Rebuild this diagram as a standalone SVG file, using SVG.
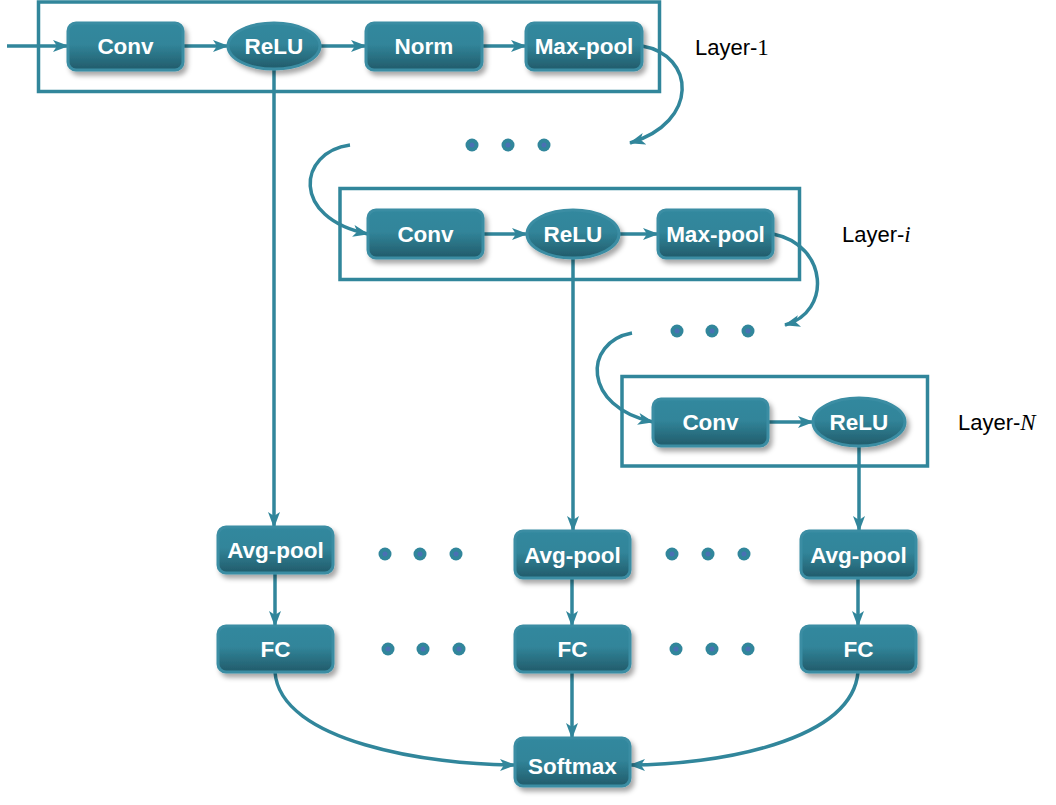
<svg xmlns="http://www.w3.org/2000/svg" width="1056" height="805" viewBox="0 0 1056 805">
<defs>
<linearGradient id="g" x1="0" y1="0" x2="0" y2="1">
<stop offset="0" stop-color="#33889E"/>
<stop offset="0.45" stop-color="#31859A"/>
<stop offset="1" stop-color="#225B6A"/>
</linearGradient>
<filter id="sh" x="-20%" y="-30%" width="150%" height="170%">
<feDropShadow dx="3" dy="4" stdDeviation="2.5" flood-color="#000" flood-opacity="0.35"/>
</filter>
<marker id="ar" markerUnits="userSpaceOnUse" markerWidth="16" markerHeight="14" refX="15" refY="7" orient="auto">
<path d="M0,1 L16,7 L0,13 L4,7 Z" fill="#31869B"/>
</marker>
</defs>
<style>
.box{fill:none;stroke:#31869B;stroke-width:3.5}
.n rect,.n ellipse{fill:url(#g);stroke:#3A8DA3;stroke-width:3;filter:url(#sh)}
.n text{fill:#fff;font-family:"Liberation Sans",Arial,sans-serif;font-weight:bold;font-size:22.5px;text-anchor:middle;dominant-baseline:central}
.c path,.c line{fill:none;stroke:#31869B;stroke-width:3.5;marker-end:url(#ar)}
.d circle.o{fill:#31869B}
.d circle.i{fill:#4A70B4}
.lbl{font-family:"Liberation Sans",Arial,sans-serif;font-size:22px;fill:#000}
.m{font-family:"Liberation Serif","Times New Roman",serif;font-size:23px}
</style>

<g id="layer1-frame"><rect class="box" x="38.5" y="2" width="621" height="89.5"/></g>
<g id="layeri-frame"><rect class="box" x="340" y="188.5" width="459.5" height="91"/></g>
<g id="layerN-frame"><rect class="box" x="622" y="376.5" width="305.5" height="89.5"/></g>

<g id="connectors" class="c">
<line x1="7" y1="46" x2="68" y2="46"/>
<line x1="183" y1="46" x2="228" y2="46"/>
<line x1="320" y1="46" x2="366" y2="46"/>
<line x1="482" y1="46" x2="526" y2="46"/>
<path d="M642,46 C695,55 700,122 630,143"/>
<path d="M350,145 C298,152 290,218 368,234"/>
<line x1="483" y1="234" x2="527" y2="234"/>
<line x1="619" y1="234" x2="658" y2="234"/>
<path d="M773,234 C828,245 832,312 785,325"/>
<path d="M632,333 C583,342 582,407 653,422"/>
<line x1="768" y1="422" x2="813" y2="422"/>
<line x1="274" y1="69" x2="274" y2="527"/>
<line x1="573" y1="258" x2="573" y2="531"/>
<line x1="859" y1="446" x2="859" y2="531"/>
<line x1="275" y1="573" x2="275" y2="626"/>
<line x1="572" y1="578" x2="572" y2="626"/>
<line x1="858" y1="578" x2="858" y2="626"/>
<line x1="572" y1="672" x2="572" y2="738"/>
<path d="M275,672 C280,742 430,765 515,765"/>
<path d="M858,672 C852,742 715,765 630,765"/>
</g>

<g id="conv1" class="n"><rect x="68" y="23" width="115" height="47" rx="8"/><text x="125.5" y="46.5">Conv</text></g>
<g id="relu1" class="n"><ellipse cx="274" cy="46" rx="46" ry="23"/><text x="274" y="46.5">ReLU</text></g>
<g id="norm1" class="n"><rect x="366" y="23" width="116" height="47" rx="8"/><text x="424" y="46.5">Norm</text></g>
<g id="maxpool1" class="n"><rect x="526" y="23" width="116" height="47" rx="8"/><text x="584" y="46.5">Max-pool</text></g>

<g id="conv2" class="n"><rect x="368" y="210" width="115" height="48" rx="8"/><text x="425.5" y="234.5">Conv</text></g>
<g id="relu2" class="n"><ellipse cx="573" cy="234" rx="46" ry="24"/><text x="573" y="234.5">ReLU</text></g>
<g id="maxpool2" class="n"><rect x="658" y="210" width="115" height="48" rx="8"/><text x="715.5" y="234.5">Max-pool</text></g>

<g id="conv3" class="n"><rect x="653" y="399" width="115" height="47" rx="8"/><text x="710.5" y="422.5">Conv</text></g>
<g id="relu3" class="n"><ellipse cx="859" cy="422" rx="46" ry="24"/><text x="859" y="422.5">ReLU</text></g>

<g id="avgpool1" class="n"><rect x="218" y="527" width="115" height="46" rx="8"/><text x="275.5" y="550.5">Avg-pool</text></g>
<g id="avgpool2" class="n"><rect x="515" y="531" width="115" height="47" rx="8"/><text x="572.5" y="555">Avg-pool</text></g>
<g id="avgpool3" class="n"><rect x="801" y="531" width="115" height="47" rx="8"/><text x="858.5" y="555">Avg-pool</text></g>

<g id="fc1" class="n"><rect x="218" y="626" width="115" height="46" rx="8"/><text x="275.5" y="649.5">FC</text></g>
<g id="fc2" class="n"><rect x="515" y="626" width="115" height="46" rx="8"/><text x="572.5" y="649.5">FC</text></g>
<g id="fc3" class="n"><rect x="801" y="626" width="115" height="46" rx="8"/><text x="858.5" y="649.5">FC</text></g>

<g id="softmax" class="n"><rect x="515" y="738" width="115" height="48" rx="8"/><text x="572.5" y="766">Softmax</text></g>

<g id="dots" class="d">
<circle class="o" cx="472" cy="145" r="6.5"/><circle class="i" cx="472" cy="145" r="2.5"/>
<circle class="o" cx="508" cy="145" r="6.5"/><circle class="i" cx="508" cy="145" r="2.5"/>
<circle class="o" cx="544" cy="145" r="6.5"/><circle class="i" cx="544" cy="145" r="2.5"/>
<circle class="o" cx="677" cy="331" r="6.5"/><circle class="i" cx="677" cy="331" r="2.5"/>
<circle class="o" cx="712" cy="331" r="6.5"/><circle class="i" cx="712" cy="331" r="2.5"/>
<circle class="o" cx="748" cy="331" r="6.5"/><circle class="i" cx="748" cy="331" r="2.5"/>
<circle class="o" cx="385" cy="554" r="6.5"/><circle class="i" cx="385" cy="554" r="2.5"/>
<circle class="o" cx="420" cy="554" r="6.5"/><circle class="i" cx="420" cy="554" r="2.5"/>
<circle class="o" cx="456" cy="554" r="6.5"/><circle class="i" cx="456" cy="554" r="2.5"/>
<circle class="o" cx="672" cy="554" r="6.5"/><circle class="i" cx="672" cy="554" r="2.5"/>
<circle class="o" cx="708" cy="554" r="6.5"/><circle class="i" cx="708" cy="554" r="2.5"/>
<circle class="o" cx="744" cy="554" r="6.5"/><circle class="i" cx="744" cy="554" r="2.5"/>
<circle class="o" cx="388" cy="649" r="6.5"/><circle class="i" cx="388" cy="649" r="2.5"/>
<circle class="o" cx="423" cy="649" r="6.5"/><circle class="i" cx="423" cy="649" r="2.5"/>
<circle class="o" cx="459" cy="649" r="6.5"/><circle class="i" cx="459" cy="649" r="2.5"/>
<circle class="o" cx="676" cy="649" r="6.5"/><circle class="i" cx="676" cy="649" r="2.5"/>
<circle class="o" cx="712" cy="649" r="6.5"/><circle class="i" cx="712" cy="649" r="2.5"/>
<circle class="o" cx="748" cy="649" r="6.5"/><circle class="i" cx="748" cy="649" r="2.5"/>
</g>

<g id="labels">
<text class="lbl" x="695" y="55">Layer-<tspan class="m">1</tspan></text>
<text class="lbl" x="842" y="242">Layer-<tspan class="m" font-style="italic">i</tspan></text>
<text class="lbl" x="958" y="430">Layer-<tspan class="m" font-style="italic">N</tspan></text>
</g>
</svg>
